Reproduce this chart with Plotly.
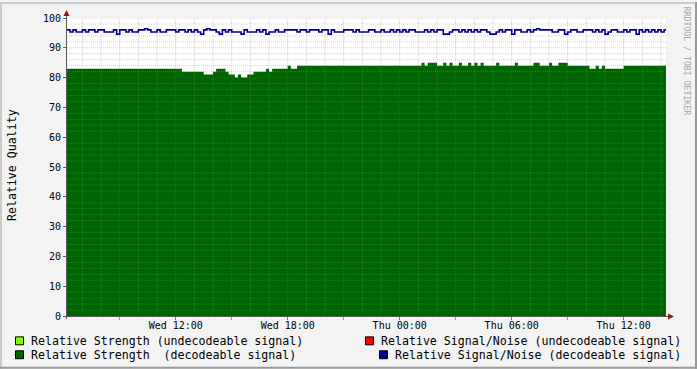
import plotly.graph_objects as go
import pandas as pd

# ---------------- data ----------------
t_start = "2024-01-03 06:10"   # Wednesday, sample step 10 min
sample_step = "10min"

strength_decodeable = [
    83, 83, 83, 83, 83, 83, 83, 83, 83, 83,
    83, 83, 83, 83, 83, 83, 83, 83, 83, 83,
    83, 83, 83, 83, 83, 83, 83, 83, 83, 83,
    83, 83, 83, 83, 83, 83, 83, 82, 82, 82,
    82, 82, 82, 82, 81, 81, 81, 82, 83, 83,
    83, 82, 81, 81, 80, 81, 80, 80, 81, 81,
    82, 82, 82, 82, 83, 82, 83, 83, 83, 83,
    83, 84, 83, 83, 84, 84, 84, 84, 84, 84,
    84, 84, 84, 84, 84, 84, 84, 84, 84, 84,
    84, 84, 84, 84, 84, 84, 84, 84, 84, 84,
    84, 84, 84, 84, 84, 84, 84, 84, 84, 84,
    84, 84, 84, 84, 85, 84, 85, 85, 85, 84,
    84, 85, 84, 85, 84, 84, 85, 84, 84, 85,
    84, 85, 84, 85, 84, 84, 84, 84, 85, 84,
    84, 84, 84, 84, 85, 84, 84, 84, 84, 84,
    85, 85, 84, 84, 84, 85, 84, 84, 85, 85,
    85, 84, 84, 84, 84, 84, 84, 84, 83, 83,
    84, 83, 84, 83, 83, 83, 83, 83, 83, 84,
    84, 84, 84, 84, 84, 84, 84, 84, 84, 84,
    84, 84, 84, 84,
]

snr_decodeable = [
    96, 95.3, 96, 95.3, 95.3, 96, 95.3, 96, 96, 95.3,
    96, 96, 95.3, 95.3, 95.3, 96, 94.6, 96, 96, 95.3,
    96, 95.3, 95.3, 96, 96, 96.4, 96, 95.3, 95.3, 96,
    95.3, 95.3, 96, 96, 96, 95.3, 96, 96, 95.3, 96,
    95.3, 96, 95.3, 94.6, 96, 96.4, 96, 96, 95.3, 94.6,
    96, 95.3, 96, 95.3, 95.3, 95.3, 94.6, 96, 95.3, 95.3,
    95.3, 96, 95.3, 96, 94.6, 95.3, 95.3, 96, 95.3, 95.3,
    96, 96, 96, 96, 95.3, 96, 96, 95.3, 96, 96,
    96, 95.3, 96, 96, 94.6, 96, 95.3, 95.3, 95.3, 96,
    96, 96, 95.3, 96, 95.3, 95.3, 95.3, 96, 96, 95.3,
    95.3, 96, 95.3, 95.3, 96, 95.3, 96, 95.3, 96, 95.3,
    96, 96, 95.3, 95.3, 95.3, 96, 95.3, 96, 95.3, 96,
    96, 94.6, 94.6, 95.3, 96, 96, 95.3, 96, 95.3, 96,
    95.3, 96, 95.3, 96, 96, 95.3, 94.6, 94.6, 95.3, 96,
    95.3, 96, 96, 94.6, 96, 96, 95.3, 95.3, 96, 95.3,
    96, 96.4, 96, 96, 96, 96, 95.3, 95.3, 96, 96,
    94.6, 95.3, 96, 96, 95.3, 95.3, 96, 96, 96, 95.3,
    96, 95.3, 96, 94.6, 95.3, 96, 96, 95.3, 95.3, 96,
    95.3, 96, 96, 94.6, 96, 95.3, 96, 95.3, 96, 95.3,
    96, 95.3, 96, 96,
]

x_range = ["2024-01-03 06:10:30", "2024-01-04 14:16:00"]
x_tick_vals = ["2024-01-03 12:00", "2024-01-03 18:00", "2024-01-04 00:00",
               "2024-01-04 06:00", "2024-01-04 12:00"]
x_tick_text = ["Wed 12:00", "Wed 18:00", "Thu 00:00", "Thu 06:00", "Thu 12:00"]
y_tick_vals = [0, 10, 20, 30, 40, 50, 60, 70, 80, 90, 100]

legend_items = [
    ("Relative Strength (undecodeable signal)", "#80FF00"),
    ("Relative Signal/Noise (undecodeable signal)", "#FF0000"),
    ("Relative Strength\u00a0 (decodeable signal)", "#006600"),
    ("Relative Signal/Noise (decodeable signal)", "#000099"),
]

# ---------------- geometry ----------------
W, H = 697, 369
PL, PR, PT, PB = 67, 666, 16, 316
FONT = "DejaVu Sans Mono"


def px(xp):
    return (xp - PL) / (PR - PL)


def py(yp):
    return (PB - yp) / (PB - PT)


times = pd.date_range(t_start, periods=len(strength_decodeable), freq=sample_step)

# grid positions
hours = pd.date_range("2024-01-03 07:00", "2024-01-04 14:00", freq="1h")
major_hours = [h for h in hours if h.hour % 3 == 0]
minor_hours = [h for h in hours if h.hour % 3 != 0]
minor_y = [v for v in range(2, 100, 2) if v % 10 != 0]
major_y = [v for v in range(10, 101, 10)]

MINOR_C = "rgba(140,140,140,0.38)"
MAJOR_C = "rgba(255,40,40,0.33)"


def vgrid(ts):
    xs, ys = [], []
    for t in ts:
        xs += [t, t, None]
        ys += [0, 100, None]
    return xs, ys


def hgrid(vals):
    xs, ys = [], []
    for v in vals:
        xs += [pd.Timestamp(x_range[0]), pd.Timestamp(x_range[1]), None]
        ys += [v, v, None]
    return xs, ys


fig = go.Figure()

fig.add_trace(go.Scatter(
    x=times, y=strength_decodeable, mode="lines",
    line=dict(shape="hv", width=0, color="#006600"),
    fill="tozeroy", fillcolor="#006400", hoverinfo="skip",
))

for (xs, ys), col in [(vgrid(minor_hours), MINOR_C), (hgrid(minor_y), MINOR_C),
                      (vgrid(major_hours), MAJOR_C), (hgrid(major_y), MAJOR_C)]:
    fig.add_trace(go.Scatter(
        x=xs, y=ys, mode="lines", connectgaps=False,
        line=dict(color=col, width=1, dash="1px,1px"), hoverinfo="skip",
    ))

fig.add_trace(go.Scatter(
    x=times, y=snr_decodeable, mode="lines",
    line=dict(shape="hv", width=1.6, color="#000090"), hoverinfo="skip",
))

shapes = []
AX_C = "#5a5a5a"
ARROW_C = "#8B1A1A"
# axes lines
shapes.append(dict(type="line", xref="paper", yref="paper",
                   x0=px(66.5), x1=px(66.5), y0=py(319), y1=py(12),
                   line=dict(color=AX_C, width=1)))
shapes.append(dict(type="line", xref="paper", yref="paper",
                   x0=px(63), x1=px(670), y0=py(316.5), y1=py(316.5),
                   line=dict(color=AX_C, width=1)))
# arrows
shapes.append(dict(type="path", xref="paper", yref="paper",
                   path=f"M {px(63.5)} {py(14)} L {px(69.5)} {py(14)} L {px(66.5)} {py(8)} Z",
                   fillcolor=ARROW_C, line=dict(width=0)))
shapes.append(dict(type="path", xref="paper", yref="paper",
                   path=f"M {px(668)} {py(313.5)} L {px(668)} {py(319.5)} L {px(674)} {py(316.5)} Z",
                   fillcolor=ARROW_C, line=dict(width=0)))
# outer border
shapes.append(dict(type="line", xref="paper", yref="paper",
                   x0=px(0), x1=px(W), y0=py(1), y1=py(1),
                   line=dict(color="#CBCBCB", width=2)))
shapes.append(dict(type="line", xref="paper", yref="paper",
                   x0=px(1), x1=px(1), y0=py(0), y1=py(H),
                   line=dict(color="#CBCBCB", width=2)))
shapes.append(dict(type="line", xref="paper", yref="paper",
                   x0=px(0), x1=px(W), y0=py(H - 1), y1=py(H - 1),
                   line=dict(color="#999999", width=2)))
shapes.append(dict(type="line", xref="paper", yref="paper",
                   x0=px(W - 1), x1=px(W - 1), y0=py(0), y1=py(H),
                   line=dict(color="#999999", width=2)))

annotations = []
# legend
legend_pos = [(15, 341, 29), (365, 341, 378.5), (15, 355, 29), (379, 355, 392.5)]
for (label, col), (sx, sy, tx) in zip(legend_items, legend_pos):
    shapes.append(dict(type="rect", xref="paper", yref="paper",
                       x0=px(sx + 0.5), x1=px(sx + 8.5), y0=py(sy - 4), y1=py(sy + 4),
                       fillcolor=col, line=dict(color="#000000", width=1)))
    annotations.append(dict(text=label, xref="paper", yref="paper",
                            x=px(tx), y=py(sy), xanchor="left", yanchor="middle",
                            showarrow=False,
                            font=dict(family=FONT, size=11.6, color="#000000")))

annotations.append(dict(text="Relative Quality", xref="paper", yref="paper",
                        x=px(12), y=py(164), textangle=-90, showarrow=False,
                        xanchor="center", yanchor="middle",
                        font=dict(family=FONT, size=11.6, color="#000000")))
annotations.append(dict(text="RRDTOOL / TOBI OETIKER", xref="paper", yref="paper",
                        x=px(687), y=py(59), textangle=90, showarrow=False,
                        xanchor="center", yanchor="middle",
                        font=dict(family=FONT, size=8.2, color="#A8A8A8")))

fig.update_layout(
    width=W, height=H,
    margin=dict(l=PL, r=W - PR, t=PT, b=H - PB, pad=0),
    paper_bgcolor="#F3F3F3", plot_bgcolor="#FFFFFF",
    showlegend=False,
    shapes=shapes, annotations=annotations,
    font=dict(family=FONT, size=10, color="#000000"),
    xaxis=dict(
        type="date", range=x_range, showgrid=False, zeroline=False, showline=False,
        tickmode="array", tickvals=x_tick_vals, ticktext=x_tick_text,
        ticks="outside", ticklen=3, tickcolor="rgba(220,60,60,0.7)", tickwidth=1,
        ticklabelstandoff=-3,
        tickfont=dict(family=FONT, size=10, color="#000000"),
        minor=dict(dtick=3 * 3600 * 1000, tick0="2024-01-03 00:00", ticks="outside",
                   ticklen=3, tickcolor="rgba(220,60,60,0.7)", showgrid=False),
        fixedrange=True,
    ),
    yaxis=dict(
        range=[0, 100], showgrid=False, zeroline=False, showline=False,
        tickmode="array", tickvals=y_tick_vals,
        ticks="outside", ticklen=3, tickcolor=AX_C, tickwidth=1,
        tickfont=dict(family=FONT, size=10, color="#000000"),
        fixedrange=True,
    ),
)

fig.write_html("out.html")
